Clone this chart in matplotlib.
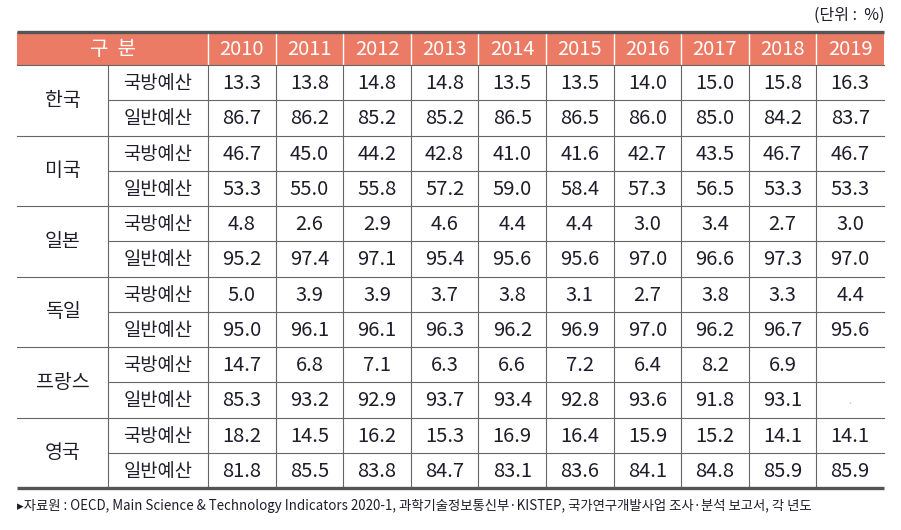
import matplotlib.pyplot as plt
from matplotlib import font_manager

# table data (unit: %)
years = ['2010', '2011', '2012', '2013', '2014', '2015', '2016', '2017', '2018', '2019']
countries = ['한국', '미국', '일본', '독일', '프랑스', '영국']
row_labels = ['국방예산', '일반예산']

defense = [
    [13.3, 13.8, 14.8, 14.8, 13.5, 13.5, 14.0, 15.0, 15.8, 16.3],
    [46.7, 45.0, 44.2, 42.8, 41.0, 41.6, 42.7, 43.5, 46.7, 46.7],
    [4.8, 2.6, 2.9, 4.6, 4.4, 4.4, 3.0, 3.4, 2.7, 3.0],
    [5.0, 3.9, 3.9, 3.7, 3.8, 3.1, 2.7, 3.8, 3.3, 4.4],
    [14.7, 6.8, 7.1, 6.3, 6.6, 7.2, 6.4, 8.2, 6.9, None],
    [18.2, 14.5, 16.2, 15.3, 16.9, 16.4, 15.9, 15.2, 14.1, 14.1],
]
general = [
    [86.7, 86.2, 85.2, 85.2, 86.5, 86.5, 86.0, 85.0, 84.2, 83.7],
    [53.3, 55.0, 55.8, 57.2, 59.0, 58.4, 57.3, 56.5, 53.3, 53.3],
    [95.2, 97.4, 97.1, 95.4, 95.6, 95.6, 97.0, 96.6, 97.3, 97.0],
    [95.0, 96.1, 96.1, 96.3, 96.2, 96.9, 97.0, 96.2, 96.7, 95.6],
    [85.3, 93.2, 92.9, 93.7, 93.4, 92.8, 93.6, 91.8, 93.1, None],
    [81.8, 85.5, 83.8, 84.7, 83.1, 83.6, 84.1, 84.8, 85.9, 85.9],
]

unit_text = '(단위 :  %)'
source_text = ('\u25B8자료원 : OECD, Main Science & Technology Indicators 2020-1, '
               '과학기술정보통신부·KISTEP, 국가연구개발사업 조사·분석 보고서, 각 년도')

plt.rcParams['font.family'] = ['Noto Sans CJK KR', 'DejaVu Sans']
names = {f.name for f in font_manager.fontManager.ttflist}
num_font = ['Liberation Sans Narrow'] if 'Liberation Sans Narrow' in names else ['Noto Sans CJK KR']

header_color = '#EC7B65'
line_color = '#666666'
text_color = '#1e1e2a'

# layout in pixels
left, right = 17, 884
col_country = 108
col_first = 208
col_w = (right - col_first) / len(years)
top = 32
header_bottom = 65
row_h = (488 - header_bottom) / 12

fig = plt.figure(figsize=(9.01, 5.30), dpi=100)
ax = fig.add_axes([0, 0, 1, 1])
ax.set_xlim(0, 901)
ax.set_ylim(530, 0)
ax.axis('off')

# header
ax.add_patch(plt.Rectangle((left, top), right - left, header_bottom - top,
                           facecolor=header_color, edgecolor='none'))
hy = (top + header_bottom) / 2 + 1
ax.text((left + col_first) / 2, hy, '구  분', color='white', fontsize=14.5,
        ha='center', va='center')
for i, y in enumerate(years):
    x0 = col_first + i * col_w
    ax.text(x0 + col_w / 2, hy, y, color='white', fontsize=14.5,
            ha='center', va='center', family=num_font)
    ax.plot([x0, x0], [top, header_bottom], color='white', lw=1)

# body
for c, name in enumerate(countries):
    y0 = header_bottom + 2 * c * row_h
    ax.text((left + col_country) / 2, y0 + row_h, name, color=text_color,
            fontsize=14, ha='center', va='center')
    for r, vals in enumerate([defense[c], general[c]]):
        yc = y0 + (r + 0.5) * row_h + 1
        ax.text((col_country + col_first) / 2, yc, row_labels[r],
                color=text_color, fontsize=13.5, ha='center', va='center')
        for i, v in enumerate(vals):
            xc = col_first + (i + 0.5) * col_w
            if v is None:
                if r == 1:
                    ax.text(xc, yc, '.', color='#cccccc', fontsize=8,
                            ha='center', va='center')
                continue
            ax.text(xc, yc, f'{v:.1f}', color=text_color, fontsize=14.5,
                    ha='center', va='center', family=num_font)
    # inner line between the two rows
    ax.plot([col_country, right], [y0 + row_h, y0 + row_h], color=line_color, lw=0.8)
    if c > 0:
        ax.plot([left, right], [y0, y0], color=line_color, lw=0.8)

bottom = header_bottom + 12 * row_h
ax.plot([col_country, col_country], [header_bottom, bottom], color=line_color, lw=0.8)
for i in range(len(years)):
    x0 = col_first + i * col_w
    ax.plot([x0, x0], [header_bottom, bottom], color=line_color, lw=0.8)
ax.plot([left, right], [header_bottom, header_bottom], color=line_color, lw=0.8)

# thick top and bottom rules
ax.plot([left, right], [top, top], color='#555555', lw=2.4, solid_capstyle='butt')
ax.plot([left, right], [bottom, bottom], color='#555555', lw=2.4, solid_capstyle='butt')

ax.text(right, 15, unit_text, color=text_color, fontsize=11.5, ha='right', va='center')
ax.text(left, 506, source_text, color=text_color, fontsize=9.6, ha='left', va='center')

fig.savefig('out.png', dpi=100)
